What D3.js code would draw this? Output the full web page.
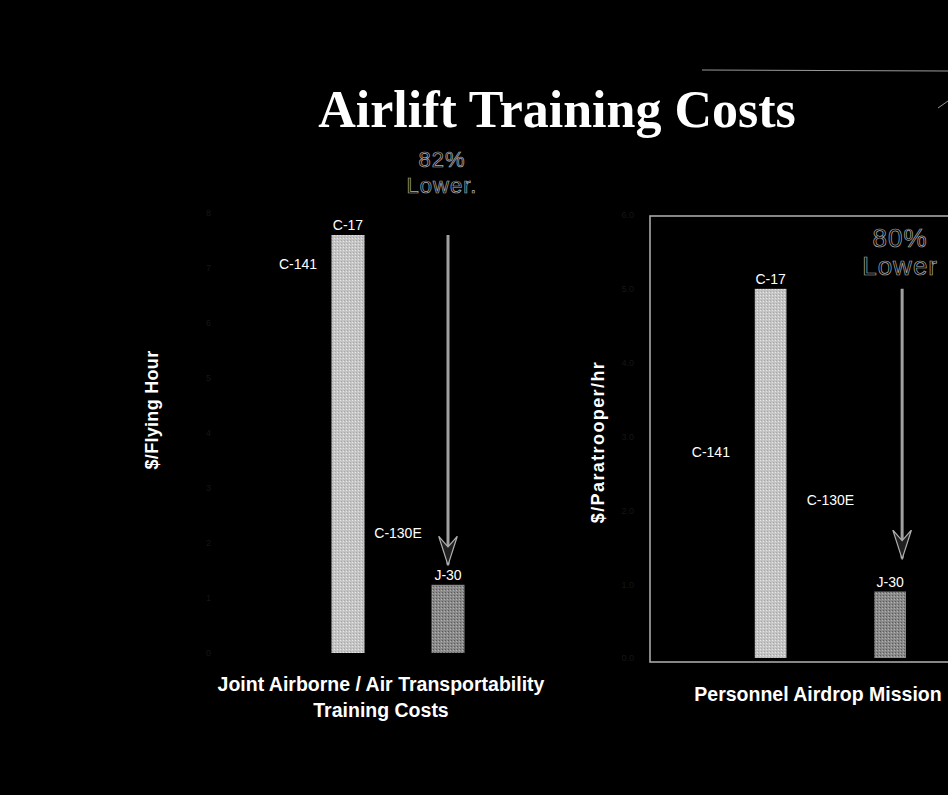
<!DOCTYPE html>
<html>
<head>
<meta charset="utf-8">
<script src="https://cdn.jsdelivr.net/npm/d3@7"></script>
<style>
  body { margin: 0; background: #000; }
  svg { display: block; }
</style>
</head>
<body>
<script>
// aircraft, in drawing order
var aircraft = ["C-141", "C-17", "C-130E", "J-30"];
// $/Flying Hour (thousands), joint airborne / air transportability training
var flyingHour = [6.9, 7.6, 2.0, 1.24];
// $/Paratrooper/hr, personnel airdrop mission
var paratrooperHr = [2.65, 5.0, 2.0, 0.9];
var flyingTicks = [0, 1, 2, 3, 4, 5, 6, 7, 8];
var paraTicks = [0, 1, 2, 3, 4, 5, 6];
var barColors = ["#000000", "#bdbdbd", "#000000", "#858585"];

var w = 948, h = 795;
var svg = d3.select("body").append("svg")
	.attr("width", w)
	.attr("height", h)
	.style("background", "#000");

svg.append("rect").attr("width", w).attr("height", h).attr("fill", "#000");

// speckle pattern for the scanned look
var defs = svg.append("defs");
var pat = defs.append("pattern")
	.attr("id", "speck")
	.attr("width", 3).attr("height", 3)
	.attr("patternUnits", "userSpaceOnUse");
pat.append("rect").attr("width", 3).attr("height", 3).attr("fill", "#c4c4c4");
pat.append("rect").attr("x", 1).attr("y", 1).attr("width", 1).attr("height", 1).attr("fill", "#e6e6e6");
pat.append("rect").attr("x", 2).attr("y", 0).attr("width", 1).attr("height", 1).attr("fill", "#a8a8a8");
var pat2 = defs.append("pattern")
	.attr("id", "speck2")
	.attr("width", 3).attr("height", 3)
	.attr("patternUnits", "userSpaceOnUse");
pat2.append("rect").attr("width", 3).attr("height", 3).attr("fill", "#8a8a8a");
pat2.append("rect").attr("x", 1).attr("y", 1).attr("width", 1).attr("height", 1).attr("fill", "#5a5a5a");
pat2.append("rect").attr("x", 0).attr("y", 2).attr("width", 1).attr("height", 1).attr("fill", "#b0b0b0");

// open arrowhead pointing along the line
defs.append("marker")
	.attr("id", "arrowhead")
	.attr("viewBox", "0 0 10 7")
	.attr("refX", 9.5).attr("refY", 3.5)
	.attr("markerWidth", 10).attr("markerHeight", 7)
	.attr("markerUnits", "strokeWidth")
	.attr("orient", "auto")
	.append("path")
	.attr("d", "M0,0.4 L9.6,3.5 L0,6.6 L3.5,3.5 Z")
	.attr("fill", "#202020")
	.attr("stroke", "#b0b0b0")
	.attr("stroke-width", 0.4);

// title
svg.append("text")
	.attr("x", 557)
	.attr("y", 127)
	.attr("text-anchor", "middle")
	.style("font-family", "'Liberation Serif', 'Times New Roman', serif")
	.style("font-weight", "bold")
	.style("font-size", "52px")
	.attr("fill", "#fff")
	.text("Airlift Training Costs");

svg.append("line")
	.attr("x1", 702).attr("x2", 948)
	.attr("y1", 70).attr("y2", 71)
	.attr("stroke", "#999").attr("stroke-width", 1.2);
svg.append("line")
	.attr("x1", 938).attr("x2", 948)
	.attr("y1", 108).attr("y2", 101)
	.attr("stroke", "#999").attr("stroke-width", 1);

function drawPanel(opt) {
	var xScale = d3.scaleBand()
		.domain(aircraft)
		.range(opt.xRange)
		.paddingInner(opt.pad)
		.paddingOuter(opt.pad / 2);
	var yScale = d3.scaleLinear()
		.domain(opt.yDomain)
		.range(opt.yRange);

	var g = svg.append("g");

	if (opt.frame) {
		g.append("rect")
			.attr("x", opt.frame[0]).attr("y", opt.frame[1])
			.attr("width", opt.frame[2]).attr("height", opt.frame[3])
			.attr("fill", "none")
			.attr("stroke", "#a8a8a8")
			.attr("stroke-width", 1.6);
	}

	// axis barely visible, like the scan
	var yAxis = d3.axisLeft(yScale).tickValues(opt.ticks).tickSize(0);
	var ax = g.append("g")
		.attr("transform", "translate(" + opt.axisX + ",0)")
		.call(yAxis);
	ax.select(".domain").remove();
	ax.selectAll("text")
		.attr("fill", "#161616")
		.style("font-size", "9px")
		.style("font-family", "'Liberation Sans', Arial, sans-serif");

	g.selectAll(".bar")
		.data(opt.values)
		.enter()
		.append("rect")
		.attr("class", "bar")
		.attr("x", function(d, i) { return xScale(aircraft[i]); })
		.attr("y", function(d) { return yScale(d); })
		.attr("width", xScale.bandwidth())
		.attr("height", function(d) { return yScale(0) - yScale(d); })
		.attr("fill", function(d, i) {
			if (i == 1) return "url(#speck)";
			if (i == 3) return "url(#speck2)";
			return barColors[i];
		});

	g.selectAll(".lbl")
		.data(opt.values)
		.enter()
		.append("text")
		.attr("class", "lbl")
		.attr("x", function(d, i) { return xScale(aircraft[i]) + xScale.bandwidth() / 2; })
		.attr("y", function(d) { return yScale(d) - 5; })
		.attr("text-anchor", "middle")
		.style("font-family", "'Liberation Sans', Arial, sans-serif")
		.style("font-size", "14px")
		.attr("fill", "#fff")
		.text(function(d, i) { return aircraft[i]; });

	// axis title
	g.append("text")
		.attr("transform", "translate(" + opt.titleX + "," + opt.titleY + ") rotate(-90)")
		.attr("text-anchor", "middle")
		.style("font-family", "'Liberation Sans', Arial, sans-serif")
		.style("font-weight", "bold")
		.style("font-size", "18px")
		.style("letter-spacing", opt.titleSpacing + "px")
		.attr("fill", "#fff")
		.text(opt.yTitle);

	// arrow from the tall bar down to J-30
	var ax0 = xScale("J-30") + xScale.bandwidth() / 2 + opt.arrowShift;
	g.append("line")
		.attr("x1", ax0).attr("x2", ax0)
		.attr("y1", yScale(opt.values[1]))
		.attr("y2", yScale(opt.values[3]) - opt.arrowGap)
		.attr("stroke", "#a0a0a0")
		.attr("stroke-width", 3)
		.attr("marker-end", "url(#arrowhead)");

	g.selectAll(".pct")
		.data(opt.pctText)
		.enter()
		.append("text")
		.attr("class", "pct")
		.attr("x", ax0 + opt.pctShift)
		.attr("y", function(d, i) { return opt.pctY + i * opt.pctGap; })
		.attr("text-anchor", "middle")
		.style("font-family", "'Liberation Sans', Arial, sans-serif")
		.style("font-size", opt.pctSize + "px")
		.style("letter-spacing", "1px")
		.attr("fill", "#000")
		.attr("stroke", "#b0b0b0")
		.attr("stroke-width", 0.7)
		.text(function(d) { return d; });

	g.selectAll(".cat")
		.data(opt.catText)
		.enter()
		.append("text")
		.attr("class", "cat")
		.attr("x", opt.catX)
		.attr("y", function(d, i) { return opt.catY + i * 26; })
		.attr("text-anchor", "middle")
		.style("font-family", "'Liberation Sans', Arial, sans-serif")
		.style("font-weight", "bold")
		.style("font-size", "19.5px")
		.attr("fill", "#fff")
		.text(function(d) { return d; });
}

drawPanel({
	values: flyingHour,
	ticks: flyingTicks,
	xRange: [273, 473],
	pad: 0.34,
	yDomain: [0, 8],
	yRange: [653, 213],
	axisX: 214,
	yTitle: "$/Flying Hour", titleSpacing: 0.3,
	titleX: 158, titleY: 410,
	arrowShift: 0, arrowGap: 20,
	pctText: ["82%", "Lower."], pctShift: -6, pctY: 167, pctGap: 26, pctSize: 22,
	catText: ["Joint Airborne / Air Transportability", "Training Costs"],
	catX: 381, catY: 691
});

drawPanel({
	values: paratrooperHr,
	ticks: paraTicks,
	xRange: [681, 920],
	pad: 0.47,
	yDomain: [0, 6],
	yRange: [658, 215],
	axisX: 637,
	frame: [650, 216, 320, 446],
	yTitle: "$/Paratrooper/hr", titleSpacing: 1.4,
	titleX: 604, titleY: 442,
	arrowShift: 12, arrowGap: 33,
	pctText: ["80%", "Lower"], pctShift: -2, pctY: 247, pctGap: 28, pctSize: 26,
	catText: ["Personnel Airdrop Mission"],
	catX: 818, catY: 701
});
</script>
</body>
</html>
